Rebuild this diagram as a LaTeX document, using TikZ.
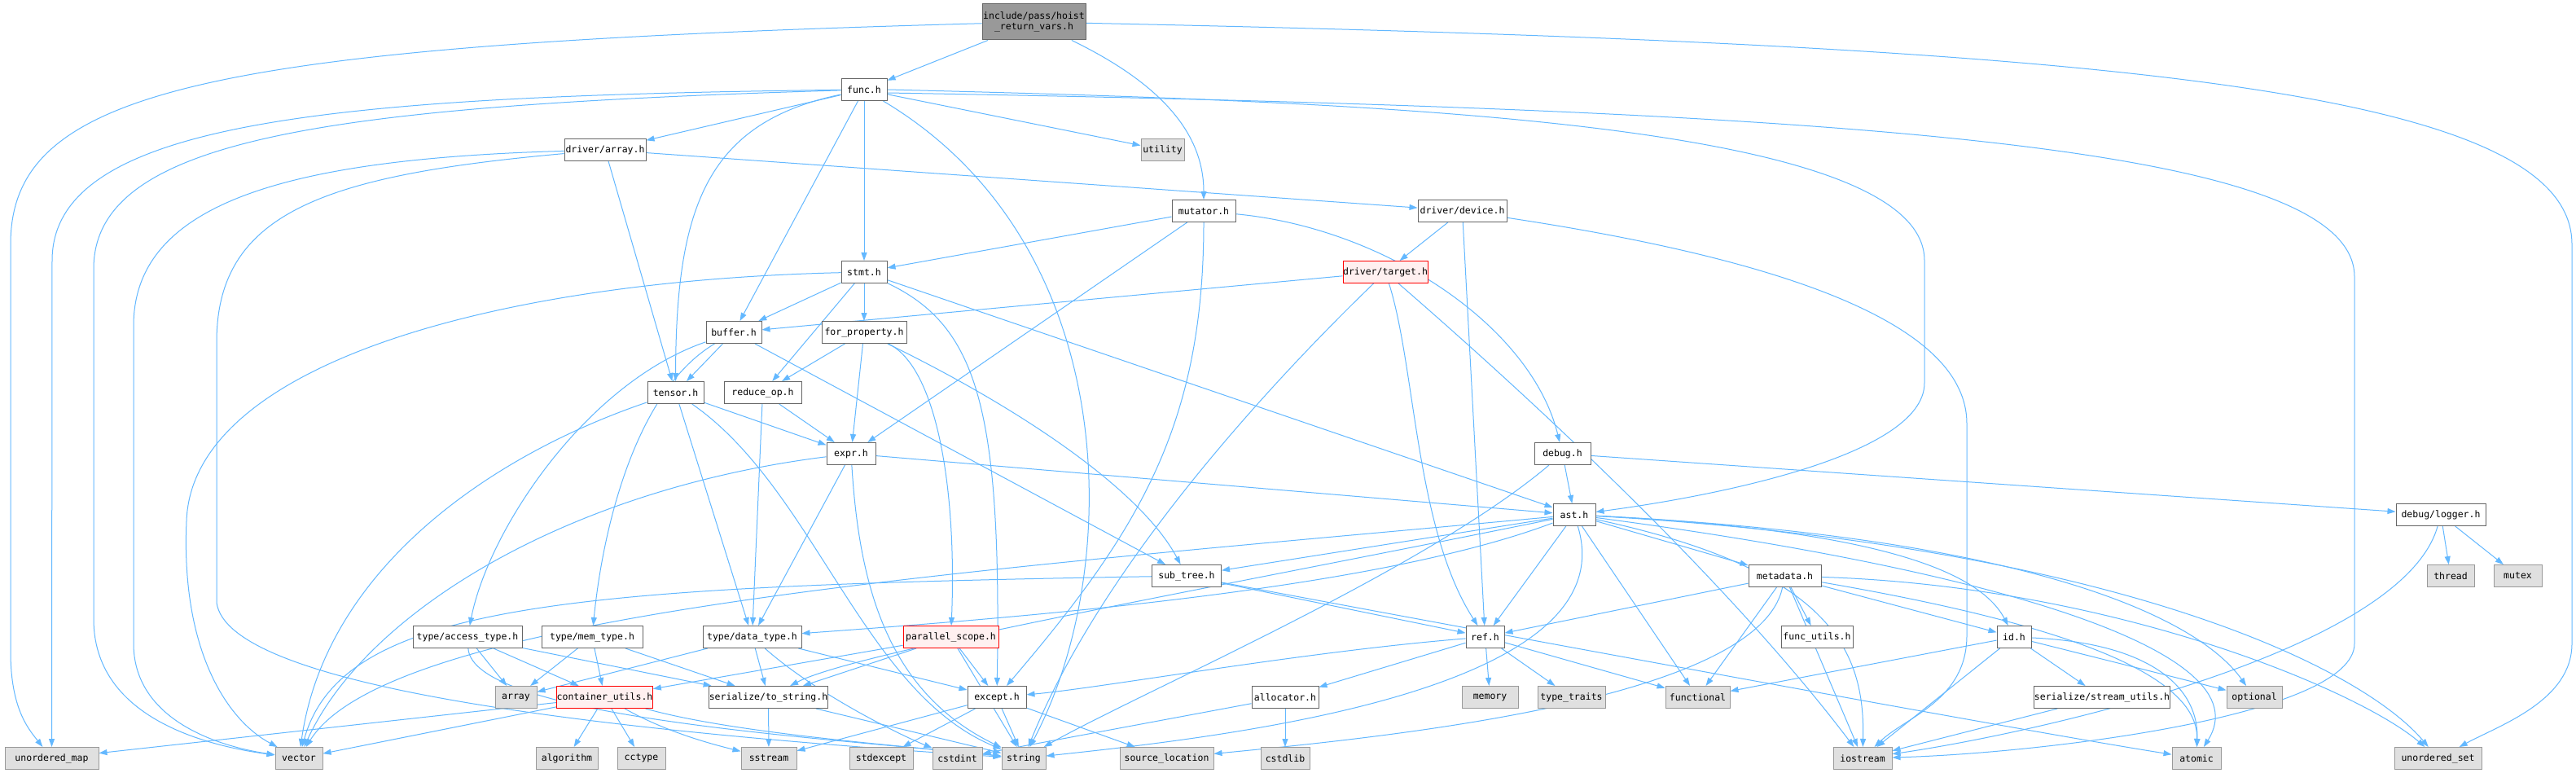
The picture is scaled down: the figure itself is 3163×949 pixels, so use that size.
\documentclass[tikz,border=0pt]{standalone}
\usepackage{fontspec}
\setmonofont{DejaVu Sans Mono}
\usetikzlibrary{arrows.meta}
\definecolor{edgec}{HTML}{63B8FF}
\definecolor{sysfill}{HTML}{E0E0E0}
\definecolor{sysdraw}{HTML}{999999}
\definecolor{nodedraw}{HTML}{666666}
\definecolor{rootfill}{HTML}{999999}
\definecolor{redfill}{HTML}{FFF0F0}
\pgfdeclarelayer{back}
\pgfdeclarelayer{edges}
\pgfsetlayers{back,edges,main}
\tikzset{
  box/.style={draw=nodedraw, fill=white, line width=1pt, inner sep=0pt,
    minimum height=27pt, font=\ttfamily\fontsize{11.5}{13}\selectfont, text=black},
  sysbox/.style={box, draw=sysdraw, fill=sysfill},
  redbox/.style={box, draw=red, fill=redfill},
  rootbox/.style={box, fill=rootfill, minimum height=44pt, align=center},
  e/.style={draw=edgec, line width=1pt, -{Triangle[length=10pt,width=7pt]}},
}
\begin{document}
\begin{tikzpicture}[x=1pt,y=-1pt]
\begin{pgfonlayer}{back}
\fill[white] (0,0) rectangle (3163,949);
\end{pgfonlayer}
\useasboundingbox (0,0) rectangle (3163,949);

% nodes
\node[rootbox, minimum width=127pt] (root) at (1269.5,27) {include/pass/hoist\\\_return\_vars.h};
\node[box, minimum width=56pt] (func) at (1061,110) {func.h};
\node[sysbox, minimum width=53pt] (utility) at (1427.5,184) {utility};
\node[box, minimum width=78pt] (mutator) at (1478,259) {mutator.h};
\node[box, minimum width=100pt] (darray) at (743,184) {driver/array.h};
\node[box, minimum width=109pt] (ddevice) at (1795.5,259) {driver/device.h};
\node[box, minimum width=56pt] (stmt) at (1061,334) {stmt.h};
\node[redbox, minimum width=104pt] (target) at (1701,334) {driver/target.h};
\node[box, minimum width=68pt] (buffer) at (901,408) {buffer.h};
\node[box, minimum width=104pt] (forprop) at (1061,408) {for\_property.h};
\node[box, minimum width=69pt] (tensor) at (829.5,482) {tensor.h};
\node[box, minimum width=95pt] (reduce) at (936.5,482) {reduce\_op.h};
\node[box, minimum width=60pt] (expr) at (1045,557) {expr.h};
\node[box, minimum width=69pt] (debug) at (1918.5,557) {debug.h};
\node[box, minimum width=52pt] (ast) at (1933,632) {ast.h};
\node[box, minimum width=110pt] (logger) at (2997,632) {debug/logger.h};
\node[box, minimum width=85pt] (subtree) at (1457,707) {sub\_tree.h};
\node[box, minimum width=89pt] (metadata) at (2191.5,707) {metadata.h};
\node[sysbox, minimum width=58pt] (thread) at (3009,707) {thread};
\node[sysbox, minimum width=59pt] (mutex) at (3091.5,707) {mutex};
\node[box, minimum width=134pt] (accesstype) at (574,782) {type/access\_type.h};
\node[box, minimum width=124pt] (memtype) at (727,782) {type/mem\_type.h};
\node[box, minimum width=121pt] (datatype) at (923.5,782) {type/data\_type.h};
\node[redbox, minimum width=117pt] (parallel) at (1167.5,782) {parallel\_scope.h};
\node[box, minimum width=47pt] (ref) at (1823.5,782) {ref.h};
\node[box, minimum width=88pt] (funcutils) at (2231,782) {func\_utils.h};
\node[box, minimum width=42pt] (id) at (2473,782) {id.h};
\node[sysbox, minimum width=51pt] (array) at (633.5,856) {array};
\node[redbox, minimum width=117pt] (container) at (742.5,856) {container\_utils.h};
\node[box, minimum width=137pt] (tostring) at (943.5,856) {serialize/to\_string.h};
\node[box, minimum width=72pt] (except) at (1224,856) {except.h};
\node[box, minimum width=82pt] (allocator) at (1578,856) {allocator.h};
\node[sysbox, minimum width=69pt] (memory) at (1829.5,856) {memory};
\node[sysbox, minimum width=83pt] (typetraits) at (1929.5,856) {type\_traits};
\node[sysbox, minimum width=79pt] (functional) at (2084.5,856) {functional};
\node[box, minimum width=156pt] (streamutils) at (2581,856) {serialize/stream\_utils.h};
\node[sysbox, minimum width=68pt] (optional) at (2768,856) {optional};
\node[sysbox, minimum width=115pt] (umap) at (63.5,931) {unordered\_map};
\node[sysbox, minimum width=58pt] (vector) at (367,931) {vector};
\node[sysbox, minimum width=76pt] (algorithm) at (696,931) {algorithm};
\node[sysbox, minimum width=59pt] (cctype) at (787.5,931) {cctype};
\node[sysbox, minimum width=68pt] (sstream) at (944,931) {sstream};
\node[sysbox, minimum width=78pt] (stdexcept) at (1082,931) {stdexcept};
\node[sysbox, minimum width=61pt] (cstdint) at (1175.5,931) {cstdint};
\node[sysbox, minimum width=54pt] (string) at (1257,931) {string};
\node[sysbox, minimum width=115pt] (srcloc) at (1432.5,931) {source\_location};
\node[sysbox, minimum width=60pt] (cstdlib) at (1578,931) {cstdlib};
\node[sysbox, minimum width=72pt] (iostream) at (2287,931) {iostream};
\node[sysbox, minimum width=60pt] (atomic) at (2697,931) {atomic};
\node[sysbox, minimum width=107pt] (uset) at (2993.5,931) {unordered\_set};

\begin{pgfonlayer}{edges}
% hoist
\draw[e] (root) -- (func);
\draw[e] (root) .. controls (1420,100) and (1478,160) .. (mutator);
\draw[e] (root) .. controls (250,55) and (13,110) .. (13,300) -- (13,800) .. controls (13,870) and (35,895) .. (umap);
\draw[e] (root) .. controls (2600,55) and (3158,110) .. (3158,300) -- (3158,790) .. controls (3158,860) and (3070,890) .. (uset);
% func
\draw[e] (func) -- (darray);
\draw[e] (func) -- (buffer);
\draw[e] (func) .. controls (870,150) and (830,250) .. (tensor);
\draw[e] (func) -- (stmt);
\draw[e] (func) -- (utility);
\draw[e] (func) .. controls (400,118) and (64,150) .. (64,320) -- (umap);
\draw[e] (func) .. controls (400,130) and (115,170) .. (115,330) -- (115,760) .. controls (115,880) and (250,915) .. (vector);
\draw[e] (func) .. controls (1380,300) and (1380,700) .. (string);
\draw[e] (func.east) .. controls (1700,125) and (2363,150) .. (2363,320) -- (2363,470) .. controls (2363,560) and (2100,610) .. (ast);
\draw[e] ([yshift=-4pt]func.east) .. controls (2300,135) and (2891,180) .. (2891,340) -- (2891,790) .. controls (2891,880) and (2500,925) .. (iostream);
% driver/array
\draw[e] (darray) -- (ddevice);
\draw[e] (darray) -- (tensor);
\draw[e] (darray) .. controls (350,195) and (164,250) .. (164,400) -- (164,790) .. controls (164,880) and (260,915) .. (vector);
\draw[e] (darray) .. controls (400,215) and (266,260) .. (266,420) -- (266,740) .. controls (280,840) and (700,895) .. (string);
% driver/device
\draw[e] (ddevice) -- (target);
\draw[e] (ddevice) -- (ref);
\draw[e] (ddevice) .. controls (2200,320) and (2415,400) .. (2415,520) -- (2415,780) .. controls (2415,860) and (2340,880) .. (iostream);
% driver/target
\draw[e] (target) -- (buffer);
\draw[e] (target) .. controls (1738,450) and (1738,650) .. (ref);
\draw[e] (target) .. controls (1550,480) and (1350,700) .. (string);
\draw[e] (target) .. controls (1950,550) and (2150,750) .. (iostream);
% mutator
\draw[e] (mutator) -- (stmt);
\draw[e] (mutator) -- (expr);
\draw[e] (mutator) .. controls (1700,280) and (1880,400) .. (debug);
\draw[e] (mutator) .. controls (1478,520) and (1400,650) .. (except);
% stmt
\draw[e] (stmt) -- (buffer);
\draw[e] (stmt) -- (forprop);
\draw[e] (stmt) -- (reduce);
\draw[e] (stmt) -- (ast);
\draw[e] (stmt) .. controls (1200,400) and (1230,500) .. (except);
\draw[e] (stmt) .. controls (600,345) and (235,450) .. (229,640) .. controls (222,800) and (280,885) .. (vector);
% buffer
\draw[e] (buffer) -- (tensor);
\draw[e] (buffer) -- (subtree);
\draw[e] (buffer) .. controls (720,470) and (600,650) .. (accesstype);
\draw[e] (buffer) .. controls (780,480) and (740,650) .. (memtype);
% for_property
\draw[e] (forprop) -- (reduce);
\draw[e] (forprop) -- (expr);
\draw[e] (forprop) .. controls (1250,500) and (1400,600) .. (subtree);
\draw[e] (forprop) .. controls (1150,450) and (1175,600) .. (parallel);
% tensor
\draw[e] (tensor) -- (expr);
\draw[e] (tensor) -- (datatype);
\draw[e] (tensor) .. controls (1000,600) and (1060,850) .. (string);
\draw[e] (tensor) .. controls (600,560) and (400,700) .. (vector);
% reduce_op
\draw[e] (reduce) -- (expr);
\draw[e] (reduce) -- (datatype);
% expr
\draw[e] (expr) -- (ast);
\draw[e] (expr) -- (datatype);
\draw[e] (expr) .. controls (1055,720) and (1090,850) .. (string);
\draw[e] (expr) .. controls (700,600) and (450,750) .. (vector);
% debug
\draw[e] (debug) -- (ast);
\draw[e] (debug) -- (logger);
\draw[e] (debug) .. controls (1750,700) and (1400,850) .. (string);
% logger
\draw[e] (logger) -- (thread);
\draw[e] (logger) -- (mutex);
\draw[e] (logger) .. controls (2950,800) and (2500,900) .. (iostream);
% ast
\draw[e] (ast) -- (subtree);
\draw[e] (ast) -- (metadata);
\draw[e] (ast) -- (ref);
\draw[e] (ast) -- (functional);
\draw[e] (ast) .. controls (2300,650) and (2430,700) .. (id);
\draw[e] (ast) .. controls (1700,720) and (1300,755) .. (datatype);
\draw[e] (ast) .. controls (1500,720) and (1050,800) .. (tostring);
\draw[e] (ast) .. controls (2250,700) and (2290,800) .. (iostream);
\draw[e] (ast) .. controls (2000,850) and (1500,905) .. (string);
\draw[e] (ast) .. controls (2450,700) and (2780,800) .. (atomic);
\draw[e] (ast) .. controls (2500,660) and (2700,760) .. (optional);
\draw[e] (ast) .. controls (2600,670) and (2900,820) .. (uset);
\draw[e] (ast) .. controls (1200,700) and (480,750) .. (vector);
% metadata
\draw[e] (metadata) -- (ref);
\draw[e] (metadata) -- (id);
\draw[e] (metadata) -- (funcutils);
\draw[e] (metadata) -- (functional);
\draw[e] (metadata) -- (iostream);
\draw[e] (metadata) .. controls (2160,860) and (1700,905) .. (srcloc);
\draw[e] (metadata) .. controls (2600,720) and (2900,850) .. (uset);
\draw[e] (metadata) .. controls (2500,760) and (2700,820) .. (atomic);
% ref
\draw[e] (ref) -- (allocator);
\draw[e] (ref) -- (memory);
\draw[e] (ref) -- (typetraits);
\draw[e] (ref) -- (functional);
\draw[e] (ref) .. controls (1600,800) and (1350,845) .. (except);
% sub_tree
\draw[e] (subtree) -- (ref);
\draw[e] (subtree) .. controls (700,720) and (420,740) .. (vector);
\draw[e] (subtree) .. controls (1900,790) and (2500,900) .. (atomic);
% id
\draw[e] (id) -- (functional);
\draw[e] (id) -- (iostream);
\draw[e] (id) -- (streamutils);
\draw[e] (id) -- (optional);
\draw[e] (id) .. controls (2650,790) and (2700,850) .. (atomic);
% access_type
\draw[e] (accesstype) -- (array);
\draw[e] (accesstype) -- (container);
\draw[e] (accesstype) -- (tostring);
\draw[e] (accesstype) .. controls (580,880) and (1000,905) .. (string);
% mem_type
\draw[e] (memtype) -- (array);
\draw[e] (memtype) -- (container);
\draw[e] (memtype) -- (tostring);
% data_type
\draw[e] (datatype) -- (array);
\draw[e] (datatype) -- (tostring);
\draw[e] (datatype) -- (except);
\draw[e] (datatype) .. controls (1000,850) and (1100,900) .. (cstdint);
% parallel_scope
\draw[e] (parallel) -- (except);
\draw[e] (parallel) -- (tostring);
\draw[e] (parallel) -- (string);
\draw[e] (parallel) -- (container);
% container_utils
\draw[e] (container) -- (algorithm);
\draw[e] (container) -- (cctype);
\draw[e] (container) -- (umap);
\draw[e] (container) -- (vector);
\draw[e] (container) .. controls (900,900) and (1100,915) .. (string);
\draw[e] (container) .. controls (820,900) and (880,915) .. (sstream);
% to_string
\draw[e] (tostring) -- (sstream);
\draw[e] (tostring) -- (string);
% except
\draw[e] (except) -- (stdexcept);
\draw[e] (except) -- (string);
\draw[e] (except) -- (srcloc);
\draw[e] (except) -- (sstream);
% allocator
\draw[e] (allocator) -- (cstdlib);
\draw[e] (allocator) -- (cstdint);
% stream_utils
\draw[e] (streamutils) -- (iostream);
\end{pgfonlayer}
\end{tikzpicture}
\end{document}
